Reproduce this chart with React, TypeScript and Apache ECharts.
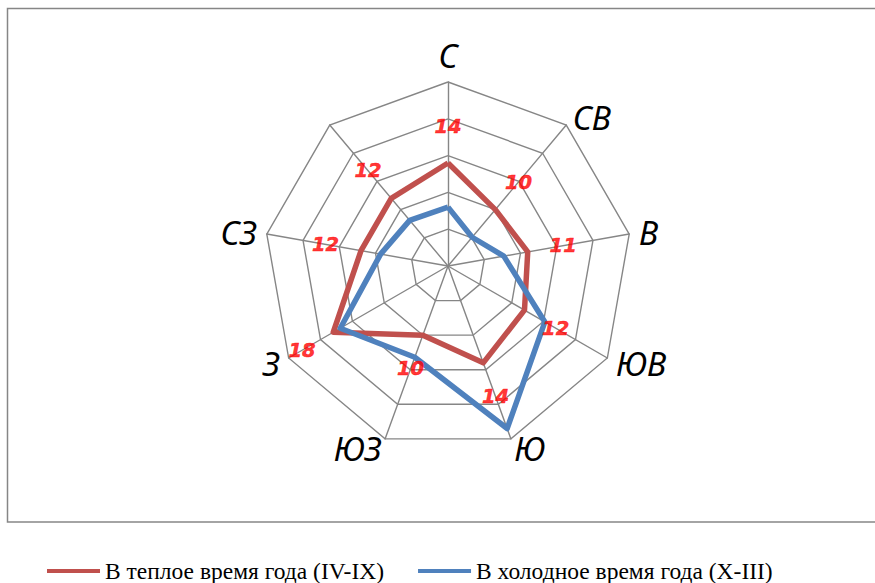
import React, { useEffect, useRef } from "react";
import * as echarts from "echarts";

// Directions, clockwise from the top (the last one has no caption in the source)
const directions = ["С", "СВ", "В", "ЮВ", "Ю", "ЮЗ", "З", "СЗ", ""];
const warmName = "В теплое время года (IV-IX)";
const coldName = "В холодное время года (X-III)";
const warmValues = [14, 10, 11, 12, 14, 10, 18, 12, 12];
const coldValues = [8, 5.1, 7.7, 15.2, 23.5, 13.2, 16.9, 9.3, 8.1];
const axisMax = 25;
const splitCount = 5;

const CENTER: [number, number] = [448, 266];
const RADIUS = 184;
const GRID = "#868686";
const RED = "#C0504D";
const BLUE = "#4F81BD";

export default function App() {
  const ref = useRef<HTMLDivElement>(null);
  useEffect(() => {
    document.body.style.margin = "0";
    if (!ref.current) return;
    const chart = echarts.init(ref.current, undefined, { renderer: "svg" });
    const n = directions.length;
    // ECharts radar runs counter-clockwise; reorder so the picture reads clockwise
    const order = [0, ...Array.from({ length: n - 1 }, (_, k) => n - 1 - k)];
    const indicators = order.map((i) => ({ name: directions[i], min: 0, max: axisMax }));
    const warm = order.map((i) => warmValues[i]);
    const cold = order.map((i) => coldValues[i]);
    const labelDist = 36;

    chart.setOption({
      animation: false,
      graphic: [
        {
          type: "rect",
          shape: { x: 7.5, y: 8.5, width: 900, height: 513.5 },
          style: { fill: "none", stroke: GRID, lineWidth: 1.5 },
          silent: true,
        },
      ],
      legend: {
        left: 42,
        top: 554,
        icon: "rect",
        itemWidth: 53,
        itemHeight: 4,
        itemGap: 34,
        textStyle: {
          fontFamily: "Liberation Serif",
          fontSize: 23.5,
          color: "#000",
        },
        data: [warmName, coldName],
      },
      radar: {
        center: CENTER,
        radius: RADIUS,
        startAngle: 90,
        splitNumber: splitCount,
        shape: "polygon",
        nameGap: 10,
        axisName: {
          color: "#000",
          fontSize: 33,
          fontStyle: "italic",
          fontFamily: "Noto Sans",
        },
        axisLine: { lineStyle: { color: GRID, width: 1.4 } },
        splitLine: { lineStyle: { color: GRID, width: 1.4 } },
        splitArea: { show: false },
        indicator: indicators,
      },
      polar: { center: CENTER, radius: RADIUS },
      angleAxis: {
        type: "value",
        min: 0,
        max: n,
        startAngle: 90,
        clockwise: true,
        show: false,
        splitLine: { show: false },
      },
      radiusAxis: {
        type: "value",
        min: 0,
        max: axisMax,
        show: false,
        splitLine: { show: false },
      },
      series: [
        {
          type: "radar",
          name: warmName,
          symbol: "none",
          color: RED,
          lineStyle: { color: RED, width: 5.5 },
          itemStyle: { color: RED },
          data: [{ value: warm, name: warmName }],
        },
        {
          type: "radar",
          name: coldName,
          symbol: "none",
          color: BLUE,
          lineStyle: { color: BLUE, width: 5.5 },
          itemStyle: { color: BLUE },
          data: [{ value: cold, name: coldName }],
        },
        {
          type: "scatter",
          coordinateSystem: "polar",
          symbol: "circle",
          symbolSize: 2,
          itemStyle: { color: "rgba(0,0,0,0)" },
          silent: true,
          z: 5,
          label: {
            show: true,
            position: "inside",
            formatter: (p: any) => String(p.value[0]),
            color: "#FF0000",
            fontSize: 19.5,
            fontWeight: "bold",
            fontStyle: "italic",
            fontFamily: "DejaVu Sans",
            textBorderColor: "#FF0000",
            textBorderWidth: 0.5,
          },
          data: warmValues.map((v, i) => {
            const a = ((90 - (360 / n) * i) * Math.PI) / 180;
            return {
              value: [v, i],
              label: {
                offset: [labelDist * Math.cos(a), -labelDist * Math.sin(a)],
              },
            };
          }),
        },
      ],
    });
    return () => chart.dispose();
  }, []);
  return <div ref={ref} style={{ width: 875, height: 583 }} />;
}
